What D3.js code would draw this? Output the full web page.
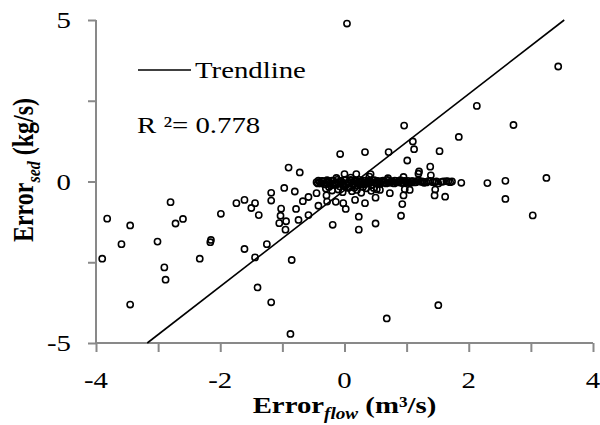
<!DOCTYPE html>
<html>
<head>
<meta charset="utf-8">
<script src="https://cdn.jsdelivr.net/npm/d3@7"></script>
<style>
    body { margin: 0; background: white; }
    svg { display: block; }
</style>
</head>
<body>
<div id="chart"></div>
<script>
// Error in flow (m3/s) vs error in sediment (kg/s)
let errFlow = [
    -3.90, -3.82, -3.59, -3.45, -3.45, -3.01, -2.90, -2.88, -2.80, -2.72,
    -2.60, -2.33, -2.15, -2.16, -1.99, -1.74, -1.61, -1.50, -1.44, -1.61,
    -1.44, -1.40, -1.38, -1.25, -1.18, -1.18, -1.18, -1.03, -1.05,
    -1.02, -0.97, -0.94, -0.95, -0.90, -0.87, -0.85, -0.80, -0.78, -0.74,
    -0.72, -0.67, -0.58, -0.58, -0.42, -0.45, -0.28, -0.14, -0.29, -0.19,
    -0.07, 0.02, -0.02, 0.17, 0.23, 0.23, 0.33, 0.33, 0.50, 0.50,
    0.57, 0.68, 0.71, 0.73, 0.91, 0.93, 0.95, 0.96, 0.97, 1.01,
    1.05, 1.10, 1.12, 1.20, 1.19, 1.38, 1.39, 1.29, 1.45, 1.46,
    1.45, 1.51, 1.53, 1.59, 1.62, 1.73, 1.84, 1.88, 1.51, 2.13,
    2.30, 2.59, 2.59, 2.72, 3.03, 3.25, 3.44, 0.04, 0.19, 0.42,
    0.00, -0.13, 1.67,
    // dense band around zero
    -0.45, -0.42, -0.38, -0.35, -0.31, -0.28, -0.25, -0.22, -0.18, -0.15,
    -0.12, -0.08, -0.05, -0.02, 0.02, 0.05, 0.08, 0.11, 0.14, 0.18,
    0.21, 0.24, 0.28, 0.31, 0.34, 0.38, 0.41, 0.44, 0.48, 0.51,
    0.55, 0.58, 0.62, 0.65, 0.69, 0.72, 0.76, 0.80, 0.83, 0.87,
    0.90, 0.94, 0.98, 1.02, 1.06, 1.10, 1.15, 1.20, 1.25, 1.32,
    1.38,
    -0.43, -0.40, -0.36, -0.33, -0.29, -0.26, -0.23, -0.20, -0.16, -0.13,
    -0.10, -0.06, -0.03, 0.00, 0.03, 0.07, 0.10, 0.13, 0.16, 0.20,
    0.23, 0.26, 0.30, 0.33, 0.36, 0.40, 0.43, 0.46, 0.50, 0.53,
    0.57, 0.60, 0.63, 0.67, 0.70, 0.74, 0.78, 0.81, 0.85, 0.88,
    0.92, 0.96, 1.00, 1.04, 1.08, 1.13, 1.17, 1.23, 1.28, 1.35,
    1.42, 1.48, 1.56, 1.64, 1.70,
    -0.30, -0.20, -0.10, -0.03, 0.06, 0.12, 0.20, 0.27, 0.35, 0.43,
    0.52, -0.25, 0.00, 0.16, 0.30, 0.47,
    0.10, 0.40, 0.70, 0.95
];
let errSed = [
    -2.39, -1.15, -1.94, -1.36, -3.81, -1.86, -2.66, -3.04, -0.64, -1.30,
    -1.16, -2.39, -1.81, -1.88, -1.00, -0.67, -0.57, -0.82, -0.67, -2.09,
    -2.35, -3.28, -1.04, -1.94, -0.35, -0.59, -3.74, -1.06, -1.29,
    -0.84, -0.20, -1.23, -1.49, 0.43, -4.72, -2.43, -0.31, -0.85, -1.19,
    0.28, -0.61, -0.48, -1.04, -0.75, -0.36, -0.62, -0.63, -0.43, -1.34,
    0.85, -0.85, -0.67, -0.57, -1.09, -1.49, 0.91, -0.67, -1.30, -0.50,
    -0.26, -4.24, 0.91, -0.36, -1.06, -0.70, -0.43, 1.73, -0.24, 0.65,
    -0.26, 1.24, 1.00, 0.31, 0.24, 0.46, 0.19, -0.01, -0.01, -0.25,
    -0.43, -0.06, 0.94, 0.00, -0.47, 0.00, 1.38, -0.04, -3.83, 2.34,
    -0.05, 0.02, -0.54, 1.75, -1.05, 0.11, 3.56, 4.89, 0.23, 0.23,
    0.23, 0.11, 0.00,
    -0.02, 0.03, -0.06, 0.01, -0.09, 0.04, -0.03, -0.12, 0.02, -0.07,
    0.05, -0.15, 0.00, -0.10, 0.06, -0.04, -0.18, 0.03, -0.08, 0.01,
    -0.13, 0.05, -0.02, -0.09, 0.03, -0.05, 0.02, -0.11, 0.04, -0.03,
    0.00, -0.07, 0.03, -0.02, 0.05, -0.04, 0.01, -0.06, 0.02, -0.01,
    0.04, -0.03, 0.00, 0.02, -0.05, 0.01, -0.02, 0.03, 0.00, -0.03,
    0.02,
    -0.06, -0.01, 0.02, -0.08, -0.03, 0.01, -0.06, 0.03, -0.04, -0.09,
    -0.02, 0.02, -0.06, 0.04, -0.11, -0.01, 0.05, -0.07, 0.02, -0.05,
    0.00, -0.08, 0.03, -0.04, -0.07, 0.01, -0.02, 0.03, -0.06, 0.02,
    -0.04, 0.01, -0.03, -0.06, 0.02, -0.02, -0.05, 0.03, -0.03, 0.00,
    -0.05, 0.02, -0.02, -0.04, 0.01, -0.03, 0.02, -0.01, -0.04, 0.01,
    -0.02, 0.00, -0.01, 0.01, -0.02,
    -0.22, -0.28, -0.25, -0.33, -0.20, -0.30, -0.26, -0.35, -0.21, -0.29,
    -0.24, -0.17, -0.14, -0.19, -0.16, -0.20,
    0.12, 0.15, 0.10, 0.14
];

// linear trendline (R2 = 0.778)
let trendSlope = 1.49;
let trendIntercept = -0.27;
let rSquared = "0.778";

let xTicks = [-4, -3, -2, -1, 0, 1, 2, 3, 4];
let xTickLabels = [-4, -2, 0, 2, 4];
let yTicks = [-5, -2.5, 0, 2.5, 5];
let yTickLabels = [-5, 0, 5];

let margin = { top: 20, right: 7, bottom: 82, left: 96 };
let width = 600 - margin.left - margin.right;
let height = 425 - margin.top - margin.bottom;
let axisColor = "#898989";
let stretch = 1.2;   // the source figure is drawn a bit wider than tall

let svg = d3.select("#chart").append("svg")
    .attr("width", 600)
    .attr("height", 425)
    .style("font-family", "'Liberation Serif', 'Times New Roman', serif");

let g = svg.append("g")
    .attr("transform", "translate(" + margin.left + "," + margin.top + ")");

let x = d3.scaleLinear()
    .domain([-4, 4])
    .range([0, width]);

let y = d3.scaleLinear()
    .domain([-5, 5])
    .range([height, 0]);

// axes
let xAxis = d3.axisBottom(x)
    .tickValues(xTicks)
    .tickSize(9)
    .tickFormat("");

let yAxis = d3.axisLeft(y)
    .tickValues(yTicks)
    .tickSize(8)
    .tickFormat("");

let gx = g.append("g")
    .attr("transform", "translate(0," + height + ")")
    .call(xAxis);

let gy = g.append("g")
    .call(yAxis);

[gx, gy].forEach(function(a) {
    a.select(".domain")
        .attr("stroke", axisColor)
        .attr("stroke-width", 2);
    a.selectAll(".tick line")
        .attr("stroke", axisColor)
        .attr("stroke-width", 2);
});
gx.select(".domain").attr("d", "M0,0H" + width);
gy.select(".domain").attr("d", "M0,0V" + height);

// tick labels
g.selectAll(".x-label")
    .data(xTickLabels)
    .enter().append("text")
    .attr("class", "x-label")
    .attr("text-anchor", "middle")
    .attr("font-size", 24)
    .attr("transform", function(d) {
        return "translate(" + x(d) + "," + (height + 45) + ") scale(" + stretch + ",1)";
    })
    .text(function(d) { return d; });

g.selectAll(".y-label")
    .data(yTickLabels)
    .enter().append("text")
    .attr("class", "y-label")
    .attr("text-anchor", "end")
    .attr("font-size", 24)
    .attr("transform", function(d) {
        return "translate(-25," + (y(d) + 8) + ") scale(" + stretch + ",1)";
    })
    .text(function(d) { return d; });

// trendline, clipped to the plot area at y = -5 and y = 5
let trendData = y.domain().map(function(v) {
    return [(v - trendIntercept) / trendSlope, v];
});

let line = d3.line()
    .x(function(d) { return x(d[0]); })
    .y(function(d) { return y(d[1]); });

g.append("path")
    .datum(trendData)
    .attr("fill", "none")
    .attr("stroke", "black")
    .attr("stroke-width", 1.6)
    .attr("d", line);

// points
g.selectAll(".dot")
    .data(errFlow)
    .enter().append("circle")
    .attr("class", "dot")
    .attr("cx", function(d) { return x(d); })
    .attr("cy", function(d, i) { return y(errSed[i]); })
    .attr("r", 3.1)
    .attr("fill", "none")
    .attr("stroke", "black")
    .attr("stroke-width", 1.6);

// legend
g.append("line")
    .attr("x1", 42)
    .attr("x2", 95)
    .attr("y1", 50)
    .attr("y2", 50)
    .attr("stroke", "black")
    .attr("stroke-width", 1.6);

g.append("text")
    .attr("font-size", 24)
    .attr("transform", "translate(99,58) scale(" + stretch + ",1)")
    .text("Trendline");

g.append("text")
    .attr("font-size", 24)
    .attr("transform", "translate(41,113) scale(" + stretch + ",1)")
    .text("R ²= " + rSquared);

// axis titles
let xTitle = svg.append("text")
    .attr("text-anchor", "middle")
    .attr("font-size", 24)
    .attr("font-weight", "bold")
    .attr("transform", "translate(" + (margin.left + width / 2) + ",413) scale(" + stretch + ",1)");
xTitle.append("tspan").text("Error");
xTitle.append("tspan")
    .attr("font-size", 16)
    .attr("font-style", "italic")
    .attr("dy", 6)
    .text("flow");
xTitle.append("tspan")
    .attr("dy", -6)
    .text(" (m³/s)");

let yTitle = svg.append("text")
    .attr("text-anchor", "middle")
    .attr("font-size", 24)
    .attr("font-weight", "bold")
    .attr("transform", "translate(33,170) scale(" + stretch + ",1) rotate(-90)");
yTitle.append("tspan").text("Error");
yTitle.append("tspan")
    .attr("font-size", 16)
    .attr("font-style", "italic")
    .attr("dy", 6)
    .text("sed");
yTitle.append("tspan")
    .attr("dy", -6)
    .text(" (kg/s)");
</script>
</body>
</html>
